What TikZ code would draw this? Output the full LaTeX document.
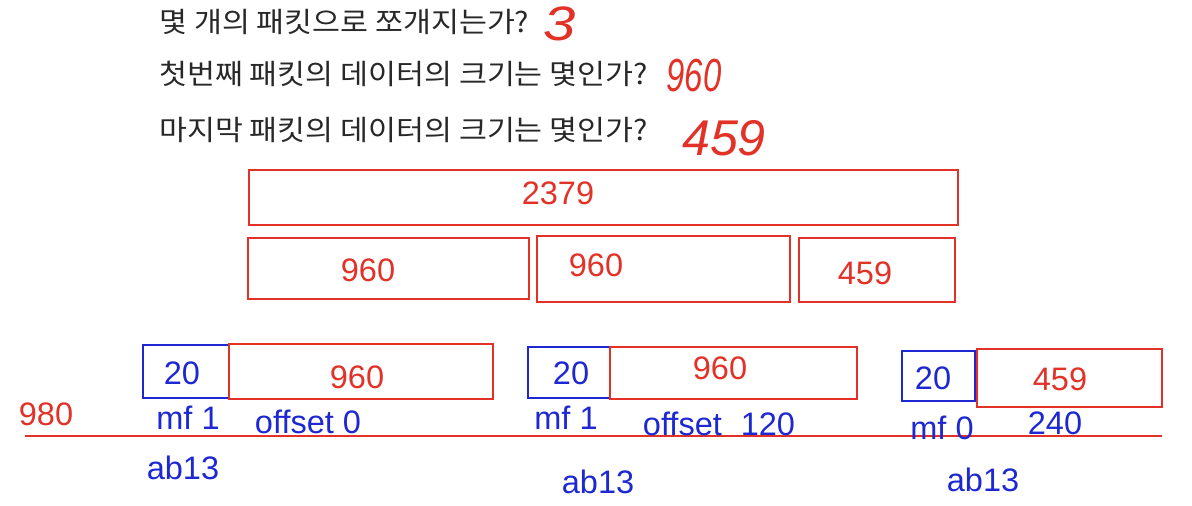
\documentclass[tikz,border=0pt]{standalone}
\usepackage{fontspec}
\setmainfont{Liberation Sans}
\newfontfamily\kr{Noto Sans CJK KR}
\definecolor{rd}{RGB}{226,50,40}
\definecolor{bl}{RGB}{30,40,210}
\definecolor{tx}{RGB}{40,40,40}
\begin{document}
\begin{tikzpicture}[x=0.02cm,y=-0.02cm,
  rbox/.style={draw=rd,line width=1.2pt,inner sep=0pt},
  bbox/.style={draw=bl,line width=1.2pt,inner sep=0pt},
  blab/.style={text=bl,font=\fontsize{18.5}{20}\selectfont,inner sep=0pt},
  rlab/.style={text=rd,font=\fontsize{18.5}{20}\selectfont,inner sep=0pt},
  q/.style={text=tx,font=\kr\fontsize{16}{18}\selectfont,anchor=west,inner sep=0pt},
  hand/.style={text=rd,font=\itshape\fontsize{22}{24}\selectfont,inner sep=0pt}]
\useasboundingbox (0,0) rectangle (1192,505);
% questions
\node[q] (q1) at (159,22) {\scalebox{1.08}[1]{몇 개의 패킷으로 쪼개지는가?}};
\node[q] (q2) at (159,74) {\scalebox{1.08}[1]{첫번째 패킷의 데이터의 크기는 몇인가?}};
\node[q] (q3) at (159,130) {\scalebox{1.08}[1]{마지막 패킷의 데이터의 크기는 몇인가?}};
\node[hand] (a1) at (560,24) {\scalebox{1.5}[1.25]{3}};
\node[hand] (a2) at (694,76) {\scalebox{0.85}[1.2]{960}};
\node[hand] (a3) at (724,138) {\scalebox{1.3}[1.3]{459}};
% datagram
\node[rbox,minimum width=709*0.02cm,minimum height=55*0.02cm] (tot) at (603.5,197.5) {};
\node[rlab] (ttot) at (558,193) {2379};
\node[rbox,minimum width=281*0.02cm,minimum height=61*0.02cm] (f1) at (388.5,268.5) {};
\node[rlab] (tf1) at (368,270) {960};
\node[rbox,minimum width=253*0.02cm,minimum height=66*0.02cm] (f2) at (663.5,269) {};
\node[rlab] (tf2) at (596,265) {960};
\node[rbox,minimum width=156*0.02cm,minimum height=64*0.02cm] (f3) at (877,270) {};
\node[rlab] (tf3) at (865,273) {459};
% packets
\node[bbox,minimum width=86*0.02cm,minimum height=53*0.02cm] (h1) at (186,371.5) {};
\node[blab] (th1) at (182,373) {20};
\node[rbox,minimum width=264*0.02cm,minimum height=55*0.02cm] (d1) at (361,371.5) {};
\node[rlab] (td1) at (357,377) {960};
\node[bbox,minimum width=82*0.02cm,minimum height=51*0.02cm] (h2) at (569,372.5) {};
\node[blab] (th2) at (571,373) {20};
\node[rbox,minimum width=247*0.02cm,minimum height=52*0.02cm] (d2) at (733.5,373) {};
\node[rlab] (td2) at (720,368) {960};
\node[bbox,minimum width=73*0.02cm,minimum height=50*0.02cm] (h3) at (938.5,376) {};
\node[blab] (th3) at (933,378) {20};
\node[rbox,minimum width=185*0.02cm,minimum height=58*0.02cm] (d3) at (1069.5,378) {};
\node[rlab] (td3) at (1060,379) {459};
% line
\coordinate (l0) at (25,436);
\coordinate (l1) at (1162,436);
\draw[rd,line width=1.2pt] (l0) -- (l1);
% labels
\node[rlab] (n980) at (46,414) {980};
\node[blab] (m1) at (188,418) {mf 1};
\node[blab] (o1) at (308,422) {offset 0};
\node[blab] (m2) at (566,418) {mf 1};
\node[blab] (o2) at (719,424) {offset\hspace{0.38cm}120};
\node[blab] (m3) at (942,428) {mf 0};
\node[blab] (o3) at (1055,423) {240};
\node[blab] (ab1) at (183,468) {ab13};
\node[blab] (ab2) at (598,482) {ab13};
\node[blab] (ab3) at (983,480) {ab13};
\end{tikzpicture}
\end{document}
